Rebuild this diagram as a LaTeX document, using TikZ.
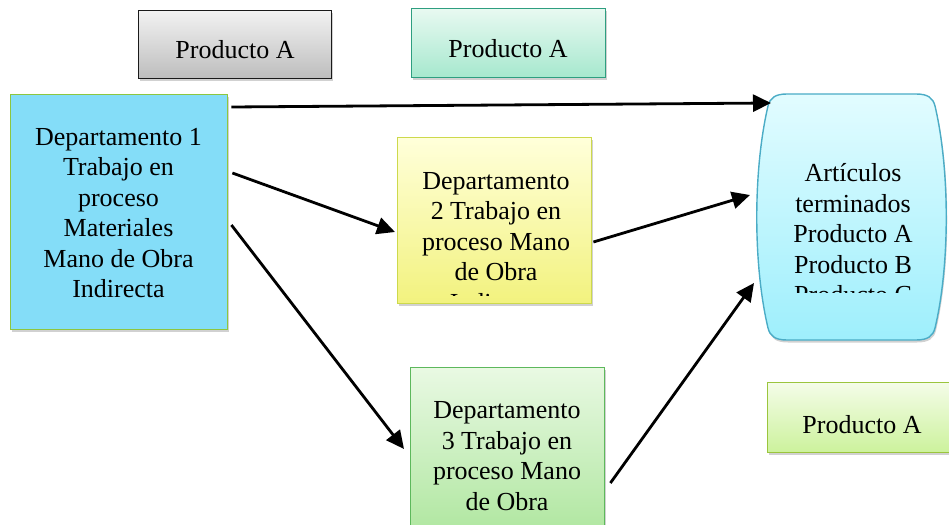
\documentclass[tikz,border=0pt]{standalone}
\usepackage{fontspec}
\setmainfont{Liberation Serif}
\usetikzlibrary{arrows.meta,calc,shadows}
\definecolor{grayB}{HTML}{1A1A1A}
\definecolor{grayT}{HTML}{F2F2F2}
\definecolor{grayBot}{HTML}{BDBDBD}
\definecolor{tealB}{HTML}{2E9E80}
\definecolor{tealT}{HTML}{E8F9F1}
\definecolor{tealBot}{HTML}{A6E8CE}
\definecolor{oneF}{HTML}{84DDF8}
\definecolor{oneB}{HTML}{8DC63F}
\definecolor{twoT}{HTML}{FFFFDA}
\definecolor{twoBot}{HTML}{F2F27E}
\definecolor{twoB}{HTML}{CDD94C}
\definecolor{thrT}{HTML}{E9F9E3}
\definecolor{thrBot}{HTML}{AEE69E}
\definecolor{thrB}{HTML}{5DB85C}
\definecolor{artT}{HTML}{E2FCFF}
\definecolor{artBot}{HTML}{9EEFFC}
\definecolor{artB}{HTML}{4BACC6}
\definecolor{pgT}{HTML}{F4FCE8}
\definecolor{pgBot}{HTML}{CCF29C}
\definecolor{pgB}{HTML}{9BC53D}
\tikzset{
  boxbase/.style={rectangle, anchor=north west, inner sep=0pt, line width=1.4pt,
    drop shadow={shadow xshift=1pt, shadow yshift=-2.5pt, opacity=0.18, fill=black}},
  txt/.style={font=\fontsize{26}{30.5}\selectfont, align=center, inner sep=0pt, text=black},
  arr/.style={line width=2.8pt, -{Triangle[length=18pt,width=17pt]}},
}
\begin{document}
\begin{tikzpicture}[x=1pt,y=-1pt]
\useasboundingbox (0,0) rectangle (949,524);
% top boxes
\node[boxbase, draw=grayB, top color=grayT, bottom color=grayBot, minimum width=193pt, minimum height=68pt] (pa1) at (138,10) {};
\node[txt] (pa1t) at (235,50) {Producto A};
\node[boxbase, draw=tealB, top color=tealT, bottom color=tealBot, minimum width=194pt, minimum height=69pt] (pa2) at (411,8) {};
\node[txt] (pa2t) at (508,49) {Producto A};
% department 1
\node[boxbase, draw=oneB, fill=oneF, minimum width=217pt, minimum height=235pt] (d1) at (10,94) {};
\node[txt] (d1t) at (118.5,213) {Departamento 1\\Trabajo en\\proceso\\Materiales\\Mano de Obra\\Indirecta};
% department 2
\node[boxbase, draw=twoB, top color=twoT, bottom color=twoBot, minimum width=194pt, minimum height=166pt] (d2) at (397,137) {};
\begin{scope}
\clip (398,138) rectangle (590,295);
\node[txt] (d2t) at (496,242) {Departamento\\2 Trabajo en\\proceso Mano\\de Obra\\Indirecta};
\end{scope}
% department 3
\node[boxbase, draw=thrB, top color=thrT, bottom color=thrBot, minimum width=194pt, minimum height=170pt] (d3) at (410,367) {};
\node[txt] (d3t) at (507,456) {Departamento\\3 Trabajo en\\proceso Mano\\de Obra};
% articulos
\node[rectangle, anchor=north west, inner sep=0pt, minimum width=186pt, minimum height=246pt] (art) at (758,94) {};
\path[fill=black, opacity=0.18, xshift=1pt, yshift=-2.5pt]
  (787,94) -- (916,94) .. controls (928,94) and (933,98) .. (935,106)
  .. controls (950,170) and (950,265) .. (935,328)
  .. controls (933,336) and (928,340) .. (916,340) -- (787,340)
  .. controls (775,340) and (770,336) .. (768,328)
  .. controls (753,265) and (753,170) .. (768,106)
  .. controls (770,98) and (775,94) .. (787,94) -- cycle;
\path[draw=artB, line width=1.4pt, top color=artT, bottom color=artBot]
  (787,94) -- (916,94) .. controls (928,94) and (933,98) .. (935,106)
  .. controls (950,170) and (950,265) .. (935,328)
  .. controls (933,336) and (928,340) .. (916,340) -- (787,340)
  .. controls (775,340) and (770,336) .. (768,328)
  .. controls (753,265) and (753,170) .. (768,106)
  .. controls (770,98) and (775,94) .. (787,94) -- cycle;
\begin{scope}
\clip (760,96) rectangle (944,292);
\node[txt] (artt) at (853,234) {Artículos\\terminados\\Producto A\\Producto B\\Producto C};
\end{scope}
% bottom right
\node[boxbase, draw=pgB, top color=pgT, bottom color=pgBot, minimum width=190pt, minimum height=70pt] (pa3) at (767,382) {};
\node[txt] (pa3t) at (862,425) {Producto A};
% arrows
\draw[arr] ($(d1.north east)+(3,13)$) -- ($(art.north west)+(13,9)$);
\draw[arr] ($(d1.north east)+(4,79)$) -- ($(d2.north west)+(-2,95)$);
\draw[arr] ($(d1.north east)+(3,131)$) -- ($(d3.north west)+(-6,82)$);
\draw[arr] ($(d2.north east)+(1,105)$) -- ($(art.north west)+(-8,101)$);
\draw[arr] ($(d3.north east)+(5,116)$) -- ($(art.north west)+(-4,189)$);
\end{tikzpicture}
\end{document}
